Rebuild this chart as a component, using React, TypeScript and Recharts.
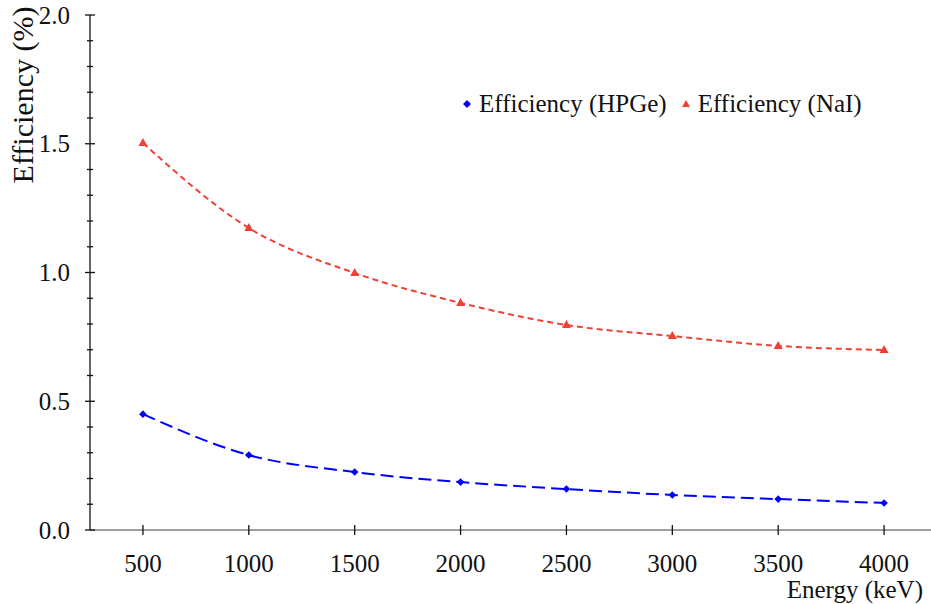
import React from 'react';
import { LineChart, Line, XAxis, YAxis, Legend } from 'recharts';

const energies = [500, 1000, 1500, 2000, 2500, 3000, 3500, 4000];
const hpgeEfficiency = [0.45, 0.291, 0.225, 0.186, 0.159, 0.136, 0.12, 0.105];
const naiEfficiency = [1.503, 1.173, 0.998, 0.882, 0.796, 0.753, 0.715, 0.699];
const xTicks = [500, 1000, 1500, 2000, 2500, 3000, 3500, 4000];
const yTicks = [0, 0.1, 0.2, 0.3, 0.4, 0.5, 0.6, 0.7, 0.8, 0.9, 1.0, 1.1, 1.2, 1.3, 1.4, 1.5, 1.6, 1.7, 1.8, 1.9, 2.0];

const data = energies.map((e, i) => ({
  energy: e,
  hpge: hpgeEfficiency[i],
  nai: naiEfficiency[i],
}));

const FONT = "'Liberation Serif', 'Times New Roman', serif";
const BLUE = '#0000ff';
const RED = '#ef4136';
const TEXT = '#111';

const YTick = (props: any) => {
  const { x, y, payload } = props;
  const v = payload.value;
  const major = Math.round(v * 10) % 5 === 0;
  return (
    <g>
      <line x1={x - (major ? 5 : 3)} x2={x + (major ? 5 : 3)} y1={y} y2={y} stroke={TEXT} strokeWidth={1.3} />
      {major && (
        <text x={x - 20} y={y} textAnchor="end" dominantBaseline="central" fontFamily={FONT} fontSize={25} fill={TEXT}>
          {v.toFixed(1)}
        </text>
      )}
    </g>
  );
};

const XTick = (props: any) => {
  const { x, y, payload } = props;
  return (
    <g>
      <line x1={x} x2={x} y1={y - 5} y2={y + 5} stroke={TEXT} strokeWidth={1.3} />
      <text x={x} y={y + 33} textAnchor="middle" dominantBaseline="central" fontFamily={FONT} fontSize={25} fill={TEXT}>
        {payload.value}
      </text>
    </g>
  );
};

const Diamond = (props: any) => {
  const { cx, cy, index } = props;
  const s = 3.8;
  return <polygon key={`d${index}`} points={`${cx},${cy - s} ${cx + s},${cy} ${cx},${cy + s} ${cx - s},${cy}`} fill={BLUE} />;
};

const Triangle = (props: any) => {
  const { cx, cy, index } = props;
  return <polygon key={`t${index}`} points={`${cx},${cy - 5} ${cx + 4.5},${cy + 3} ${cx - 4.5},${cy + 3}`} fill={RED} />;
};

const LegendContent = () => (
  <div style={{ display: 'flex', alignItems: 'center', fontFamily: FONT, fontSize: 25, color: TEXT, whiteSpace: 'nowrap' }}>
    <svg width={14} height={14} style={{ marginRight: 5 }}>
      <polygon points="7,3 11,7 7,11 3,7" fill={BLUE} />
    </svg>
    <span style={{ marginRight: 12 }}>Efficiency (HPGe)</span>
    <svg width={14} height={14} style={{ marginRight: 5 }}>
      <polygon points="7,3 11,10 3,10" fill={RED} />
    </svg>
    <span>Efficiency (NaI)</span>
  </div>
);

const YLabel = () => (
  <text x={33} y={95} transform="rotate(-90 33 95)" textAnchor="middle" fontFamily={FONT} fontSize={30} fill={TEXT}>
    Efficiency (%)
  </text>
);

const XLabel = (props: any) => {
  const { viewBox } = props;
  const right = viewBox.x + viewBox.width - 14;
  const base = viewBox.y + viewBox.height - 6;
  return (
    <text x={right} y={base} textAnchor="end" fontFamily={FONT} fontSize={25} fill={TEXT}>
      Energy (keV)
    </text>
  );
};

export default function App() {
  return (
    <div style={{ position: 'absolute', left: 0, top: 0, width: 931, height: 604, overflow: 'hidden', background: '#fff' }}>
      <LineChart width={940} height={604} data={data} margin={{ top: 15, right: 3, bottom: 0, left: 0 }}>
        <XAxis
          dataKey="energy"
          type="number"
          domain={[250, 4250]}
          ticks={xTicks}
          tick={<XTick />}
          tickLine={false}
          tickSize={0}
          tickMargin={0}
          height={74}
          axisLine={{ stroke: '#808080', strokeWidth: 1.5 }}
          label={<XLabel />}
        />
        <YAxis
          type="number"
          domain={[0, 2]}
          ticks={yTicks}
          interval={0}
          tick={<YTick />}
          tickLine={false}
          tickSize={0}
          tickMargin={0}
          width={90}
          axisLine={{ stroke: TEXT, strokeWidth: 1.3 }}
          label={<YLabel />}
        />
        <Legend
          layout="horizontal"
          verticalAlign="middle"
          align="center"
          content={<LegendContent />}
          wrapperStyle={{ top: 90, left: 460, width: 'auto' }}
        />
        <Line type="monotone" dataKey="hpge" stroke={BLUE} strokeWidth={2} strokeDasharray="13 6" dot={Diamond} activeDot={false} isAnimationActive={false} />
        <Line type="monotone" dataKey="nai" stroke={RED} strokeWidth={2} strokeDasharray="6 4" dot={Triangle} activeDot={false} isAnimationActive={false} />
      </LineChart>
    </div>
  );
}
